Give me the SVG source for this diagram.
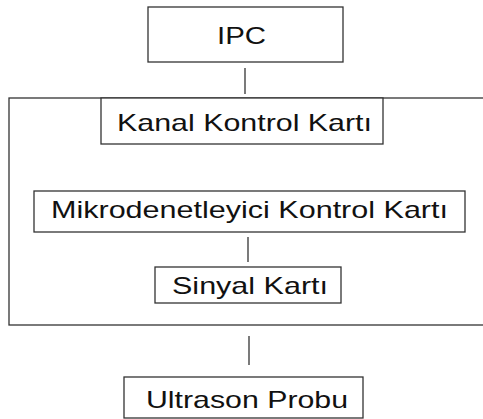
<svg xmlns="http://www.w3.org/2000/svg" width="483" height="419" viewBox="0 0 483 419">
<style>
.box{fill:#fff;stroke:#333;stroke-width:1.3}
.frame{fill:none;stroke:#333;stroke-width:1.3}
.lbl{font-family:"Liberation Sans",Arial,sans-serif;font-size:24px;fill:#111}
.con{stroke:#333;stroke-width:1.3;fill:none}
</style>
<rect width="483" height="419" fill="#fff"/>
<g id="kanal-group">
<rect class="frame" x="9" y="98" width="481" height="227"/>
</g>
<g id="connectors">
<line class="con" x1="245" y1="68" x2="245" y2="94"/>
<line class="con" x1="248" y1="237" x2="248" y2="262"/>
<line class="con" x1="249" y1="336" x2="249" y2="365"/>
</g>
<g id="ipc">
<rect class="box" x="148" y="7" width="195" height="55"/>
<text class="lbl" x="217" y="44" textLength="49" lengthAdjust="spacingAndGlyphs">IPC</text>
</g>
<g id="kanal">
<rect class="box" x="101" y="98" width="282" height="46"/>
<text class="lbl" x="117" y="131" textLength="255" lengthAdjust="spacingAndGlyphs">Kanal Kontrol Kartı</text>
</g>
<g id="mikro">
<rect class="box" x="34" y="191" width="431" height="41"/>
<text class="lbl" x="51" y="218" textLength="397" lengthAdjust="spacingAndGlyphs">Mikrodenetleyici Kontrol Kartı</text>
</g>
<g id="sinyal">
<rect class="box" x="155" y="267" width="186" height="36"/>
<text class="lbl" x="172" y="294" textLength="156" lengthAdjust="spacingAndGlyphs">Sinyal Kartı</text>
</g>
<g id="ultrason">
<rect class="box" x="124" y="377" width="239" height="41"/>
<text class="lbl" x="146" y="408" textLength="202" lengthAdjust="spacingAndGlyphs">Ultrason Probu</text>
</g>
</svg>
